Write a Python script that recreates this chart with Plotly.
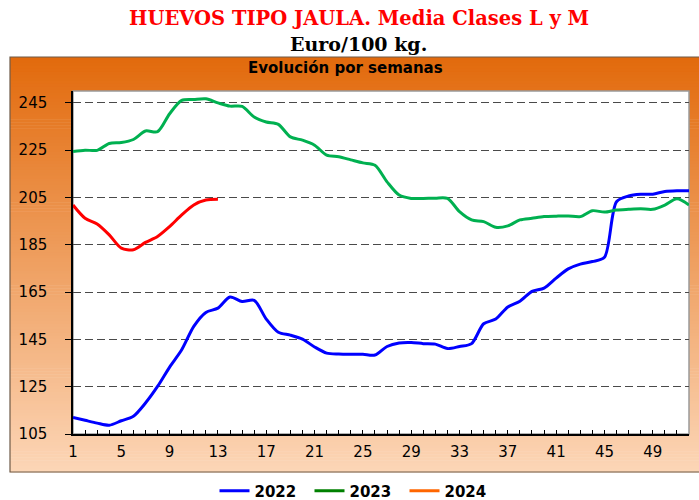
import plotly.graph_objects as go

# Weekly average price, cage eggs (classes L and M), EUR/100 kg
weeks = list(range(1, 53))
price_2022 = [112.0, 110.8, 109.6, 108.7, 110.6, 112.5, 118.1, 125.1, 133.3, 140.6,
              150.5, 156.4, 158.2, 162.9, 161.0, 161.5, 153.6, 148.0, 146.8, 145.1,
              141.8, 139.2, 138.8, 138.7, 138.7, 138.4, 142.0, 143.5, 143.7, 143.2,
              143.0, 141.1, 142.0, 143.2, 151.6, 153.6, 158.7, 161.1, 165.3, 166.7,
              170.9, 174.8, 176.8, 177.9, 179.7, 203.2, 205.6, 206.3, 206.4, 207.5,
              207.8, 207.8]
price_2023 = [224.4, 225.0, 224.9, 227.8, 228.2, 229.5, 233.1, 232.8, 240.4, 246.0,
              246.4, 246.7, 245.0, 243.6, 243.5, 239.0, 236.9, 235.9, 230.6, 229.2,
              227.1, 222.9, 222.2, 220.9, 219.6, 218.6, 211.6, 206.0, 204.6, 204.6,
              204.7, 204.6, 199.0, 195.5, 194.8, 192.4, 193.0, 195.5, 196.2, 196.9,
              197.1, 197.2, 196.9, 199.4, 198.8, 199.7, 200.0, 200.2, 200.0, 201.8,
              204.4, 201.8]
price_2024 = [201.8, 196.2, 193.8, 189.2, 183.6, 182.9, 186.0, 188.5, 192.7, 197.6,
              201.8, 203.9, 204.2]

series_names = ["2022", "2023", "2024"]
line_colors = ["#0000FF", "#00B050", "#FF0000"]
legend_colors = ["#0000FF", "#008000", "#FF6600"]

x_ticks = list(range(1, 53, 4))
y_ticks = list(range(105, 246, 20))

W, H = 699, 500
L, R, T, B = 73, 10, 91, 66
PW, PH = W - L - R, H - T - B


def px_x(x):
    return (x - L) / PW


def px_y(y):
    return (H - B - y) / PH


fig = go.Figure()

for name, ys, col in zip(series_names, [price_2022, price_2023, price_2024], line_colors):
    fig.add_trace(go.Scatter(
        x=weeks[:len(ys)], y=ys, mode="lines", name=name,
        line=dict(color=col, width=3, shape="spline", smoothing=0.8),
        showlegend=False, hoverinfo="x+y+name",
    ))

# legend keys
for name, col in zip(series_names, legend_colors):
    fig.add_trace(go.Scatter(
        x=[None], y=[None], mode="lines", name=name,
        line=dict(color=col, width=3), showlegend=True,
    ))

# orange gradient panel behind the chart
shapes = []
top_c = (226, 106, 12)
bot_c = (252, 214, 183)
panel_top, panel_bot, panel_left, panel_right = 57, 472, 10, 700
n = 140
for i in range(n):
    y0 = panel_top + (panel_bot - panel_top) * i / n
    y1 = panel_top + (panel_bot - panel_top) * (i + 1) / n + 0.6
    t = (i + 0.5) / n
    c = tuple(round(a + (b - a) * t) for a, b in zip(top_c, bot_c))
    shapes.append(dict(
        type="rect", xref="paper", yref="paper", layer="below",
        x0=px_x(panel_left), x1=px_x(panel_right), y0=px_y(y1), y1=px_y(y0),
        fillcolor="rgb(%d,%d,%d)" % c, line=dict(width=0),
    ))
shapes.append(dict(
    type="rect", xref="paper", yref="paper", layer="below",
    x0=px_x(panel_left), x1=px_x(panel_right), y0=px_y(panel_bot), y1=px_y(panel_top),
    fillcolor="rgba(0,0,0,0)", line=dict(color="#6E5A48", width=1.2),
))
# white plotting area with grey frame
shapes.append(dict(
    type="rect", xref="paper", yref="paper", layer="below",
    x0=0, x1=1, y0=0, y1=1, fillcolor="white", line=dict(color="#9A9A9A", width=1.5),
))

tick_font = dict(family="DejaVu Sans", size=15, color="black")

fig.update_layout(
    width=W, height=H,
    margin=dict(l=L, r=R, t=T, b=B, autoexpand=False),
    paper_bgcolor="white", plot_bgcolor="white",
    shapes=shapes,
    showlegend=True,
    legend=dict(
        orientation="h", xref="container", yref="container",
        x=357 / W, xanchor="center", y=(H - 491) / H, yanchor="middle",
        font=dict(family="DejaVu Sans", size=15, color="black", weight="bold"),
        bgcolor="rgba(0,0,0,0)", entrywidth=50,
    ),
    annotations=[
        dict(text="HUEVOS TIPO JAULA. Media Clases L y M", xref="paper", yref="paper",
             x=px_x(359), y=px_y(18.5), xanchor="center", yanchor="middle", showarrow=False,
             font=dict(family="DejaVu Serif", size=19.5, color="#FF0000", weight="bold")),
        dict(text="Euro/100 kg.", xref="paper", yref="paper",
             x=px_x(358.5), y=px_y(44), xanchor="center", yanchor="middle", showarrow=False,
             font=dict(family="DejaVu Serif", size=19, color="black", weight="bold")),
        dict(text="Evolución por semanas", xref="paper", yref="paper",
             x=px_x(345), y=px_y(68), xanchor="center", yanchor="middle", showarrow=False,
             font=dict(family="DejaVu Sans", size=15, color="black", weight="bold")),
    ],
)

fig.update_xaxes(
    range=[1, 52], tickvals=x_ticks, ticktext=[str(v) for v in x_ticks],
    ticks="inside", ticklen=4, tickcolor="black", tickwidth=1,
    minor=dict(dtick=1, tick0=1, ticks="inside", ticklen=4, tickcolor="black", showgrid=False),
    showline=True, linecolor="black", linewidth=1.5, showgrid=False, zeroline=False,
    tickfont=tick_font, ticklabelstandoff=3,
)
fig.update_yaxes(
    range=[105, 250], tickvals=y_ticks,
    ticks="outside", ticklen=6, tickcolor="black",
    showline=True, linecolor="black", linewidth=1.5,
    showgrid=True, gridcolor="#4A4A4A", gridwidth=1, griddash="8px,4px",
    zeroline=False, tickfont=tick_font, ticklabelstandoff=15,
)

fig.write_html("out.html")
